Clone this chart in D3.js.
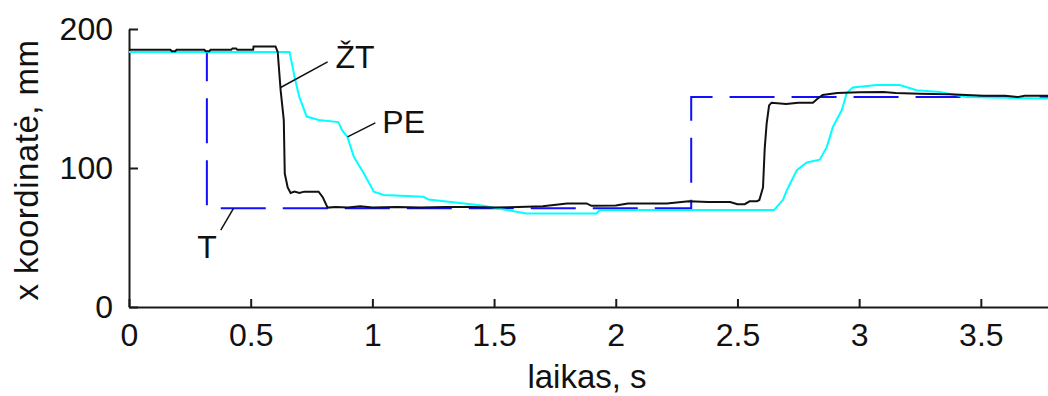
<!DOCTYPE html>
<html>
<head>
<meta charset="utf-8">
<script src="https://cdn.jsdelivr.net/npm/d3@7"></script>
<style>
  html, body { margin: 0; padding: 0; background: #fff; }
  #graph-container { width: 1048px; height: 396px; }
  text { font-family: "Liberation Sans", Arial, sans-serif; fill: #111; }
</style>
</head>
<body>
<div id="graph-container"></div>
<script>

// Ž T - measured response (black)
const ztTime = [0, 0.17, 0.176, 0.19, 0.195, 0.31, 0.315, 0.33, 0.335, 0.42, 0.425, 0.44, 0.445, 0.51, 0.512, 0.602,
  0.611, 0.623, 0.636, 0.640, 0.652, 0.664, 0.68, 0.70, 0.72, 0.76, 0.779, 0.796, 0.816,
  0.85, 0.9, 0.95, 1.0, 1.1, 1.2, 1.3, 1.4, 1.5, 1.6, 1.7, 1.8, 1.88, 1.9, 2.0, 2.05, 2.1, 2.21, 2.3,
  2.38, 2.47, 2.5, 2.53, 2.55, 2.58, 2.59, 2.605, 2.612, 2.62, 2.63, 2.64,
  2.7, 2.75, 2.81, 2.83, 2.85, 2.91, 3.0, 3.1, 3.15, 3.25, 3.37, 3.51, 3.6, 3.65, 3.68, 3.776];
const ztValue = [185, 185, 184, 184, 185, 185, 184, 184, 185, 185, 186, 186, 185, 185, 187.5, 187.5,
  183.5, 156, 134.5, 96, 86, 82, 83, 82, 83, 83, 83, 79, 71.5,
  72, 71.5, 72.5, 71.5, 72, 71.5, 72, 72, 71.5, 72, 72.5, 74.5, 74.5, 72.8, 73, 74.5, 74.5, 74.5, 76,
  75.5, 75.5, 73.9, 74, 76, 76, 77, 86, 114, 132, 145, 147,
  146, 147, 147, 150, 152.5, 154, 154.5, 154.7, 154, 153.5, 153, 152, 152, 151, 152, 152];

// PE - model response (cyan)
const peTime = [0, 0.66, 0.68, 0.70, 0.73, 0.78, 0.86, 0.876, 0.897, 0.924, 0.965, 1.006, 1.047, 1.21, 1.23,
  1.35, 1.45, 1.54, 1.634, 1.92, 1.935, 2.65, 2.687, 2.703, 2.744, 2.785, 2.838, 2.867, 2.892,
  2.929, 2.949, 2.974, 3.072, 3.167, 3.236, 3.331, 3.441, 3.776];
const peValue = [183.4, 183.4, 165.7, 151, 137, 134.5, 133, 127, 122.5, 108, 96, 83, 80.6, 79.3, 77.4,
  75, 73, 70.2, 67.3, 67.3, 69.7, 69.7, 77, 84, 98.5, 104, 106, 115, 129.5,
  141.7, 154, 158, 159.7, 159.7, 156, 154.7, 151, 150];

// T - reference trajectory (blue dashed)
const tTime = [0, 0.32, 0.32, 2.31, 2.31, 3.776];
const tValue = [183.4, 183.4, 71, 71, 151, 151];

const xTicks = [0, 0.5, 1, 1.5, 2, 2.5, 3, 3.5];
const yTicks = [0, 100, 200];

const width = 1048, height = 396;

const svg = d3.select("#graph-container").append("svg")
  .attr("width", width).attr("height", height);

const x = d3.scaleLinear().domain([0, 3.776]).range([129, 1048]);
const y = d3.scaleLinear().domain([0, 200]).range([307, 29]);

// axes, ticks point inward like the original
const xAxis = svg.append("g").attr("transform", "translate(0,307)")
  .call(d3.axisBottom(x).tickValues(xTicks).tickFormat(d3.format("")).tickSizeInner(-8).tickSizeOuter(0).tickPadding(16));
const yAxis = svg.append("g").attr("transform", "translate(129,0)")
  .call(d3.axisLeft(y).tickValues(yTicks).tickSizeInner(-9).tickSizeOuter(0).tickPadding(16));

[xAxis, yAxis].forEach(function(g) {
  g.select(".domain").attr("stroke", "#1a1a1a").attr("stroke-width", 2);
  g.selectAll(".tick line").attr("stroke", "#1a1a1a").attr("stroke-width", 2);
  g.selectAll(".tick text").attr("font-size", 32).attr("fill", "#111")
    .attr("font-family", "'Liberation Sans', Arial, sans-serif");
});

svg.append("text")
  .attr("x", 587).attr("y", 388)
  .attr("text-anchor", "middle").attr("font-size", 33)
  .text("laikas, s");

svg.append("text")
  .attr("transform", "translate(38,170) rotate(-90)")
  .attr("text-anchor", "middle").attr("font-size", 33)
  .attr("letter-spacing", 0.5)
  .text("x koordinatė, mm");

function toPoints(ts, vs) {
  return ts.map(function(t, i) { return [t, vs[i]]; });
}

const line = d3.line().x(d => x(d[0])).y(d => y(d[1]));

svg.append("path").datum(toPoints(tTime, tValue))
  .attr("fill", "none").attr("stroke", "#1010ff").attr("stroke-width", 2)
  .attr("stroke-dasharray", "45,17")
  .attr("d", line);

svg.append("path").datum(toPoints(peTime, peValue))
  .attr("fill", "none").attr("stroke", "#00ffff").attr("stroke-width", 2)
  .attr("d", line);

svg.append("path").datum(toPoints(ztTime, ztValue))
  .attr("fill", "none").attr("stroke", "#111").attr("stroke-width", 2)
  .attr("d", line);

// curve labels with leader lines (data units)
const notes = [
  {label: "ŽT", tx: 0.848, ty: 172, from: [0.816, 176.4], to: [0.623, 157.9]},
  {label: "PE", tx: 1.041, ty: 125.2, from: [1.012, 132.5], to: [0.898, 122.4]},
  {label: "T", tx: 0.28, ty: 35.1, from: [0.377, 55.3], to: [0.43, 71.2]}
];

notes.forEach(function(n) {
  svg.append("line")
    .attr("x1", x(n.from[0])).attr("y1", y(n.from[1]))
    .attr("x2", x(n.to[0])).attr("y2", y(n.to[1]))
    .attr("stroke", "#111").attr("stroke-width", 1.5);
  svg.append("text")
    .attr("x", x(n.tx)).attr("y", y(n.ty))
    .attr("font-size", 32)
    .text(n.label);
});

</script>
</body>
</html>
